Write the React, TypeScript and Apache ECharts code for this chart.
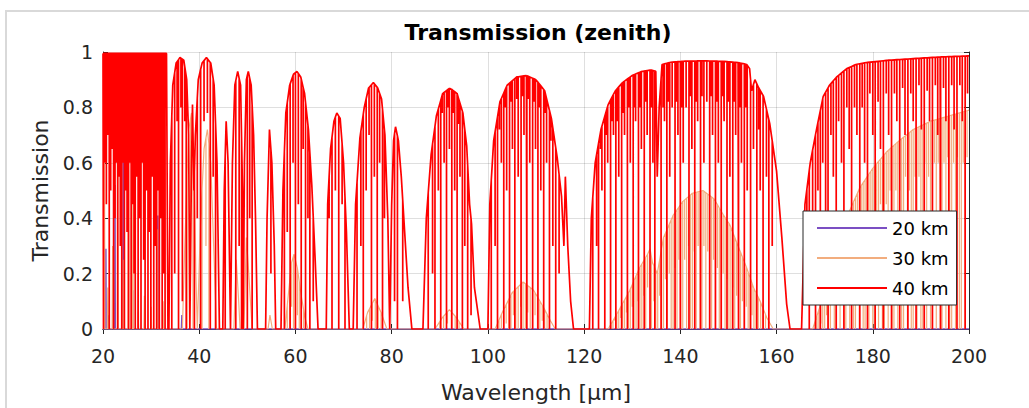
import React, { useEffect, useRef } from "react";
import * as echarts from "echarts";

type P = [number, number];

const titleText = "Transmission (zenith)";
const xName = "Wavelength [µm]";
const yName = "Transmission";
const seriesNames = ["20 km", "30 km", "40 km"];
const seriesColors = ["#7b4fc3", "#f2ad7e", "#ff0000"];
const xMin = 20, xMax = 200, xStep = 20;
const yMin = 0, yMax = 1, yStep = 0.2;

// ---------- 40 km: window envelopes [wavelength µm, transmission] ----------
const env40: P[][] = [
  [[20, 0.995], [33.2, 0.995], [33.5, 0]],
  [[33.7, 0], [34.0, 0.6], [34.5, 0.88], [35.2, 0.96], [36.0, 0.98], [36.8, 0.97], [37.4, 0.9], [37.8, 0.7], [38.05, 0]],
  [[38.1, 0], [38.4, 0.6], [38.6, 0.81], [38.9, 0.5], [39.2, 0.7], [39.8, 0.9], [40.6, 0.96], [41.5, 0.98], [42.4, 0.96], [43.1, 0.88], [43.7, 0.6], [44.2, 0]],
  [[44.9, 0], [45.2, 0.5], [45.6, 0.75], [46.0, 0.6], [46.5, 0]],
  [[46.6, 0], [46.9, 0.6], [47.4, 0.88], [48.0, 0.93], [48.6, 0.88], [49.0, 0.5], [49.15, 0]],
  [[49.2, 0], [49.4, 0.6], [49.8, 0.9], [50.2, 0.93], [50.8, 0.88], [51.3, 0.7], [51.7, 0.4], [52.1, 0]],
  [[53.8, 0], [54.1, 0.4], [54.6, 0.72], [55.1, 0.6], [55.6, 0.3], [55.9, 0]],
  [[57.0, 0], [57.4, 0.5], [58.0, 0.78], [58.8, 0.88], [59.6, 0.92], [60.3, 0.93], [61.1, 0.91], [61.9, 0.85], [62.7, 0.72], [63.4, 0.52], [64.1, 0.25], [64.7, 0]],
  [[66.4, 0], [66.7, 0.45], [67.3, 0.65], [68.0, 0.75], [68.6, 0.78], [69.3, 0.76], [70.0, 0.6], [70.6, 0.35], [71.2, 0]],
  [[72.0, 0], [72.5, 0.45], [73.4, 0.69], [74.3, 0.8], [75.2, 0.87], [76.2, 0.89], [77.1, 0.87], [77.9, 0.83], [78.6, 0.7], [79.2, 0.4], [79.6, 0]],
  [[79.7, 0], [80.0, 0.45], [80.4, 0.68], [80.8, 0.73], [81.4, 0.68], [82.0, 0.55], [82.7, 0.35], [83.4, 0.15], [84.2, 0]],
  [[86.5, 0], [87.2, 0.4], [88.2, 0.63], [89.3, 0.77], [90.6, 0.85], [92.1, 0.87], [93.6, 0.85], [94.8, 0.78], [95.6, 0.66], [96.2, 0.45], [96.6, 0.38], [97.2, 0.15], [98.4, 0]],
  [[100.0, 0], [100.4, 0.45], [101.2, 0.68], [102.5, 0.82], [104.0, 0.88], [106.0, 0.91], [108.0, 0.915], [110.0, 0.9], [111.8, 0.86], [113.2, 0.76], [114.4, 0.62], [115.3, 0.48], [115.8, 0.3], [116.1, 0.55], [116.6, 0.3], [117.2, 0.1], [117.8, 0]],
  [[121.1, 0], [121.5, 0.4], [122.3, 0.6], [123.5, 0.72], [125.0, 0.81], [126.5, 0.86], [128.0, 0.89], [130.0, 0.915], [132.0, 0.93], [134.0, 0.935], [134.9, 0.93], [135.2, 0.55], [135.6, 0.8], [136.2, 0.955], [138.0, 0.963], [141.0, 0.967], [145.0, 0.968], [149.0, 0.966], [152.0, 0.962], [153.8, 0.955], [154.4, 0.94], [154.8, 0.86], [155.5, 0.9], [156.3, 0.87], [157.3, 0.84], [158.6, 0.74], [160.0, 0.57], [161.1, 0.33], [162.1, 0.09], [162.8, 0]],
  [[165.2, 0], [165.9, 0.45], [167.0, 0.6], [168.3, 0.72], [169.7, 0.84], [171.0, 0.88], [172.5, 0.91], [174.6, 0.94], [176.5, 0.955], [178.7, 0.962], [183.0, 0.97], [188.4, 0.976], [194.0, 0.982], [200, 0.986]],
];

// ---------- 40 km: absorption lines [wavelength µm, minimum transmission] ----------
const lines40: P[] = [
  [20.1, 0], [20.35, 0.6], [20.7, 0.45], [21.0, 0.7], [21.3, 0], [21.6, 0.5], [21.9, 0.65], [22.2, 0], [22.5, 0.4], [22.8, 0.6], [23.05, 0], [23.35, 0.55], [23.6, 0.3], [23.9, 0], [24.2, 0.6], [24.45, 0], [24.75, 0.5], [25.0, 0.35], [25.3, 0], [25.6, 0.6], [25.85, 0], [26.15, 0.45], [26.45, 0.2], [26.7, 0], [27.0, 0.55], [27.3, 0], [27.6, 0.4], [27.9, 0], [28.2, 0.6], [28.45, 0.25], [28.75, 0], [29.05, 0.5], [29.35, 0], [29.65, 0.35], [29.95, 0], [30.25, 0.55], [30.55, 0], [30.85, 0.3], [31.15, 0], [31.45, 0.5], [31.7, 0], [32.0, 0.4], [32.3, 0], [32.6, 0.2], [32.9, 0],
  [34.3, 0], [34.9, 0.2], [35.4, 0.75], [35.7, 0], [36.2, 0.8], [36.5, 0.1], [37.0, 0.75], [37.3, 0],
  [39.0, 0], [39.6, 0.4], [40.3, 0], [41.0, 0.75], [41.7, 0.78], [42.3, 0], [42.9, 0.55], [43.4, 0],
  [45.4, 0], [47.6, 0], [48.3, 0.3], [48.8, 0], [50.0, 0], [50.5, 0.4], [51.0, 0], [54.9, 0.2],
  [57.7, 0], [58.3, 0.35], [58.9, 0], [59.5, 0.6], [60.0, 0], [60.6, 0.45], [61.2, 0], [61.6, 0.65], [62.1, 0], [62.6, 0.4], [63.0, 0], [63.7, 0.1],
  [67.0, 0.4], [67.6, 0], [68.3, 0.5], [69.0, 0], [69.7, 0.45], [70.3, 0],
  [72.8, 0], [73.6, 0.3], [74.1, 0], [74.7, 0.5], [75.3, 0.7], [75.8, 0], [76.4, 0.55], [77.0, 0], [77.5, 0.6], [78.1, 0], [78.5, 0.4],
  [80.6, 0.1], [81.2, 0], [82.3, 0.1],
  [87.6, 0], [88.5, 0.2], [89.0, 0], [89.7, 0.5], [90.2, 0], [90.5, 0.78], [90.9, 0.6], [91.4, 0], [91.7, 0.8], [92.0, 0.65], [92.5, 0], [92.8, 0.78], [93.1, 0.5], [93.6, 0], [93.9, 0.74], [94.2, 0.55], [94.7, 0], [95.2, 0.3], [95.8, 0], [96.5, 0.05],
  [100.7, 0], [101.5, 0.3], [102.0, 0], [102.4, 0.72], [102.8, 0.6], [103.3, 0], [103.6, 0.8], [103.9, 0.5], [104.5, 0], [104.8, 0.82], [105.1, 0.65], [105.6, 0], [106.0, 0.83], [106.3, 0.55], [106.9, 0], [107.2, 0.84], [107.5, 0.7], [108.1, 0], [108.4, 0.83], [108.7, 0.6], [109.3, 0], [109.6, 0.82], [109.9, 0.65], [110.4, 0], [110.7, 0.8], [111.0, 0.5], [111.6, 0], [111.9, 0.78], [112.2, 0.6], [112.8, 0], [113.1, 0.68], [113.5, 0.3], [114.1, 0], [114.8, 0.2],
  [121.8, 0], [122.6, 0.3], [123.0, 0], [123.4, 0.65], [123.7, 0.5], [124.3, 0], [124.6, 0.7], [124.9, 0.6], [125.5, 0], [125.8, 0.75], [126.1, 0.7], [126.6, 0], [126.9, 0.75], [127.2, 0.55], [127.8, 0], [128.1, 0.78], [128.4, 0.7], [129.0, 0], [129.3, 0.8], [129.6, 0.6], [130.2, 0], [130.5, 0.8], [130.7, 0.75], [131.3, 0], [131.6, 0.8], [131.9, 0.65], [132.5, 0], [132.8, 0.82], [133.1, 0.7], [133.7, 0], [134.0, 0.8], [134.3, 0.6], [134.7, 0],
  [136.0, 0], [136.4, 0.8], [136.7, 0.75], [137.2, 0], [137.5, 0.82], [137.8, 0.55], [138.3, 0.8], [138.9, 0], [139.2, 0.82], [139.5, 0.7], [140.0, 0], [140.3, 0.8], [140.6, 0.6], [141.2, 0.8], [141.8, 0], [142.1, 0.84], [142.4, 0.65], [143.0, 0], [143.3, 0.82], [143.6, 0.75], [144.2, 0], [144.5, 0.84], [144.9, 0.6], [145.5, 0.82], [146.1, 0], [146.4, 0.84], [146.7, 0.7], [147.3, 0], [147.6, 0.82], [147.9, 0.6], [148.5, 0], [148.8, 0.84], [149.1, 0.75], [149.7, 0], [150.0, 0.82], [150.3, 0.55], [150.9, 0], [151.2, 0.82], [151.5, 0.7], [152.1, 0], [152.4, 0.8], [152.7, 0.6], [153.3, 0], [153.6, 0.8], [153.9, 0.5], [154.6, 0], [155.2, 0.65], [155.9, 0], [156.3, 0.72], [156.6, 0.5], [157.2, 0], [157.9, 0.55], [158.4, 0], [159.1, 0.3],
  [166.3, 0.2], [166.8, 0], [167.5, 0.4], [168.1, 0], [168.6, 0.5], [169.1, 0], [169.6, 0.6], [170.2, 0.35], [170.7, 0], [171.3, 0.7], [171.8, 0.55], [172.4, 0], [172.9, 0.75], [173.5, 0.6], [174.0, 0], [174.6, 0.8], [175.1, 0.65], [175.6, 0], [176.2, 0.8], [176.7, 0.7], [177.3, 0], [177.8, 0.8], [178.3, 0.6], [178.9, 0], [179.4, 0.85], [180.0, 0.7], [180.5, 0], [181.1, 0.82], [181.6, 0.65], [182.2, 0], [182.8, 0.85], [183.3, 0.7], [183.9, 0], [184.5, 0.85], [185.0, 0.75], [185.6, 0], [186.2, 0.87], [186.7, 0.7], [187.3, 0], [187.9, 0.85], [188.4, 0.75], [189.0, 0], [189.6, 0.88], [190.1, 0.72], [190.7, 0], [191.3, 0.86], [191.8, 0.75], [192.4, 0], [193.0, 0.88], [193.5, 0.7], [194.1, 0], [194.7, 0.87], [195.2, 0.75], [195.8, 0], [196.4, 0.88], [196.9, 0.72], [197.5, 0], [198.1, 0.88], [198.6, 0.75], [199.2, 0], [199.7, 0.85],
];

// ---------- 30 km ----------
const env30: P[][] = [
  [[20.2, 0], [20.3, 0.6], [20.4, 0]],
  [[20.9, 0], [21.0, 0.15], [21.1, 0]],
  [[21.9, 0], [22.0, 0.3], [22.1, 0]],
  [[23.0, 0], [23.1, 0.62], [23.2, 0]],
  [[24.1, 0], [24.2, 0.25], [24.3, 0]],
  [[25.2, 0], [25.3, 0.8], [25.4, 0]],
  [[26.1, 0], [26.2, 0.46], [26.3, 0]],
  [[27.2, 0], [27.3, 0.2], [27.4, 0]],
  [[28.5, 0], [28.6, 0.12], [28.7, 0]],
  [[29.9, 0], [30.0, 0.08], [30.1, 0]],
  [[31.2, 0], [31.3, 0.36], [31.4, 0]],
  [[32.4, 0], [32.5, 0.1], [32.6, 0]],
  [[36.5, 0], [37.0, 0.3], [37.8, 0.72], [38.4, 0.78], [38.9, 0.6], [39.3, 0.2], [39.6, 0]],
  [[39.7, 0], [40.3, 0.4], [41.0, 0.65], [41.7, 0.72], [42.4, 0.6], [43.0, 0.3], [43.6, 0]],
  [[47.2, 0], [47.7, 0.25], [48.2, 0.1], [48.5, 0]],
  [[49.3, 0], [49.8, 0.33], [50.3, 0.2], [51.0, 0]],
  [[54.3, 0], [54.7, 0.05], [55.2, 0]],
  [[57.8, 0], [58.5, 0.12], [59.2, 0.24], [59.7, 0.27], [60.4, 0.22], [61.2, 0.12], [62.0, 0.04], [62.6, 0]],
  [[74.0, 0], [75.0, 0.06], [76.5, 0.11], [77.8, 0.06], [79.0, 0]],
  [[89.0, 0], [90.5, 0.04], [92.0, 0.07], [93.5, 0.04], [95.0, 0]],
  [[101.5, 0], [103.0, 0.06], [105.0, 0.13], [107.3, 0.17], [109.5, 0.14], [111.5, 0.08], [113.0, 0.03], [114.0, 0]],
  [[125.0, 0], [127.0, 0.06], [129.5, 0.14], [131.5, 0.22], [133.2, 0.27], [133.7, 0.29], [134.2, 0.24], [135.2, 0.2], [136.5, 0.33], [138.5, 0.41], [140.5, 0.46], [142.5, 0.49], [144.7, 0.5], [147.0, 0.47], [149.0, 0.41], [150.3, 0.376], [152.0, 0.3], [153.8, 0.22], [155.2, 0.15], [156.6, 0.1], [158.0, 0.04], [159.3, 0]],
  [[167.5, 0], [169.0, 0.08], [171.0, 0.2], [173.0, 0.32], [175.0, 0.42], [177.3, 0.51], [180.0, 0.58], [182.9, 0.64], [185.5, 0.68], [188.4, 0.72], [192.0, 0.75], [196.0, 0.77], [200, 0.79]],
];
const lines30: P[] = [
  [37.5, 0], [38.2, 0.2], [38.7, 0], [40.6, 0], [41.4, 0.3], [42.0, 0],
  [58.3, 0], [58.8, 0], [59.2, 0.08], [59.6, 0], [60.0, 0], [60.4, 0.05], [60.8, 0], [61.2, 0], [61.7, 0],
  [74.8, 0], [75.4, 0], [76.0, 0.03], [76.6, 0], [77.2, 0], [77.8, 0],
  [90.0, 0], [90.8, 0], [91.6, 0.02], [92.4, 0], [93.2, 0], [94.0, 0],
  [102.3, 0], [102.8, 0], [103.3, 0], [103.8, 0.02], [104.3, 0], [104.8, 0], [105.3, 0.05], [105.8, 0], [106.3, 0], [106.8, 0.08], [107.3, 0], [107.8, 0], [108.3, 0.06], [108.8, 0], [109.3, 0], [109.8, 0.05], [110.3, 0], [110.8, 0], [111.3, 0.03], [111.8, 0], [112.3, 0], [112.8, 0],
  [125.6, 0], [126.0, 0], [126.4, 0.03], [126.8, 0], [127.2, 0], [127.6, 0.04], [128.0, 0], [128.4, 0], [128.8, 0.06], [129.2, 0], [129.6, 0], [130.0, 0.08], [130.4, 0], [130.8, 0], [131.2, 0.1], [131.6, 0], [132.0, 0], [132.4, 0.12], [132.8, 0], [133.2, 0.15], [134.0, 0], [134.5, 0.1], [134.9, 0], [135.3, 0], [135.7, 0.12], [136.1, 0], [136.5, 0], [136.9, 0.18], [137.3, 0], [137.7, 0.2], [138.1, 0], [138.5, 0], [138.9, 0.22], [139.3, 0], [139.7, 0.25], [140.1, 0], [140.5, 0], [140.9, 0.25], [141.3, 0], [141.7, 0.3], [142.1, 0], [142.5, 0], [142.9, 0.28], [143.3, 0], [143.7, 0.3], [144.1, 0], [144.5, 0], [144.9, 0.3], [145.3, 0], [145.7, 0.28], [146.1, 0], [146.5, 0], [146.9, 0.25], [147.3, 0], [147.7, 0.22], [148.1, 0], [148.5, 0], [148.9, 0.2], [149.3, 0], [149.7, 0.18], [150.1, 0], [150.5, 0], [150.9, 0.15], [151.3, 0], [151.7, 0.12], [152.1, 0], [152.5, 0], [152.9, 0.1], [153.3, 0], [153.7, 0.08], [154.1, 0], [154.5, 0], [154.9, 0.05], [155.3, 0], [155.7, 0], [156.2, 0], [156.7, 0], [157.2, 0], [157.7, 0], [158.3, 0],
  [168.0, 0], [168.4, 0], [168.8, 0], [169.2, 0.02], [169.6, 0], [170.0, 0], [170.4, 0.05], [170.8, 0], [171.2, 0], [171.6, 0.1], [172.0, 0], [172.4, 0], [172.8, 0.15], [173.2, 0], [173.6, 0.2], [174.0, 0], [174.4, 0], [174.8, 0.25], [175.2, 0], [175.6, 0.3], [176.0, 0], [176.4, 0], [176.8, 0.3], [177.2, 0], [177.6, 0.35], [178.0, 0], [178.4, 0], [178.8, 0.35], [179.2, 0], [179.6, 0.4], [180.0, 0], [180.4, 0], [180.8, 0.4], [181.2, 0], [181.6, 0.45], [182.0, 0], [182.4, 0], [182.8, 0.45], [183.2, 0], [183.6, 0.5], [184.0, 0], [184.4, 0], [184.8, 0.5], [185.2, 0], [185.6, 0.5], [186.0, 0], [186.4, 0], [186.8, 0.55], [187.2, 0], [187.6, 0.5], [188.0, 0], [188.4, 0], [188.8, 0.55], [189.2, 0], [189.6, 0.55], [190.0, 0], [190.4, 0], [190.8, 0.6], [191.2, 0], [191.6, 0.55], [192.0, 0], [192.4, 0], [192.8, 0.6], [193.2, 0], [193.6, 0.6], [194.0, 0], [194.4, 0], [194.8, 0.6], [195.2, 0], [195.6, 0.62], [196.0, 0], [196.4, 0], [196.8, 0.6], [197.2, 0], [197.6, 0.62], [198.0, 0], [198.4, 0], [198.8, 0.6], [199.2, 0], [199.6, 0.62],
];

// ---------- 20 km ----------
const env20: P[][] = [
  [[20.2, 0], [20.25, 0.06], [20.3, 0]],
  [[20.55, 0], [20.6, 0.29], [20.65, 0]],
  [[21.15, 0], [21.2, 0.05], [21.25, 0]],
  [[22.45, 0], [22.5, 0.52], [22.55, 0]],
  [[24.15, 0], [24.2, 0.78], [24.25, 0]],
  [[26.15, 0], [26.2, 0.14], [26.25, 0]],
  [[27.25, 0], [27.3, 0.06], [27.35, 0]],
  [[31.35, 0], [31.4, 0.41], [31.45, 0]],
  [[36.3, 0], [36.4, 0.05], [36.5, 0]],
];
const lines20: P[] = [];

function envAt(env: P[], x: number): number {
  for (let i = 0; i < env.length - 1; i++) {
    const [x0, y0] = env[i];
    const [x1, y1] = env[i + 1];
    if (x >= x0 && x <= x1) return x1 === x0 ? y0 : y0 + ((y1 - y0) * (x - x0)) / (x1 - x0);
  }
  return 0;
}

function buildSeries(windows: P[][], lines: P[]): P[] {
  const out: P[] = [];
  const ws = [...windows].sort((a, b) => a[0][0] - b[0][0]);
  if (ws[0][0][0] > xMin) out.push([xMin, 0]);
  for (const env of ws) {
    const x0 = env[0][0];
    const x1 = env[env.length - 1][0];
    const ev: { x: number; y?: number; d?: number }[] = env.map((p) => ({ x: p[0], y: p[1] }));
    lines.filter((l) => l[0] > x0 && l[0] < x1).forEach((l) => ev.push({ x: l[0], d: l[1] }));
    ev.sort((a, b) => a.x - b.x);
    for (const e of ev) {
      if (e.y !== undefined) out.push([e.x, e.y]);
      else {
        const top = envAt(env, e.x);
        out.push([e.x, top], [e.x, Math.min(top, e.d as number)], [e.x, top]);
      }
    }
  }
  if (out[out.length - 1][0] < xMax) out.push([xMax, 0]);
  return out;
}

const data20 = buildSeries(env20, lines20);
const data30 = buildSeries(env30, lines30);
const data40 = buildSeries(env40, lines40);

const FONT = "DejaVu Sans, Liberation Sans, sans-serif";
const AX = "#262626";
const widths = [1.5, 1.2, 1.7];

export default function App() {
  const ref = useRef<HTMLDivElement>(null);
  useEffect(() => {
    if (!ref.current) return;
    const chart = echarts.init(ref.current, undefined, { renderer: "svg" });
    const series = [data20, data30, data40].map((d, i) => ({
      name: seriesNames[i],
      type: "line",
      data: d,
      showSymbol: false,
      symbol: "none",
      color: seriesColors[i],
      lineStyle: { width: widths[i], color: seriesColors[i] },
      silent: true,
      z: 2 + i * 0.1,
    }));
    chart.setOption({
      animation: false,
      backgroundColor: "#ffffff",
      textStyle: { fontFamily: FONT },
      title: {
        text: titleText,
        left: 533,
        textAlign: "center",
        top: 16,
        textStyle: { fontFamily: FONT, fontSize: 22, fontWeight: "bold", color: "#000" },
      },
      grid: { left: 103, right: 60, top: 52, bottom: 76 },
      legend: {
        data: seriesNames,
        orient: "vertical",
        left: 803,
        top: 211,
        z: 20,
        icon: "rect",
        itemWidth: 70,
        itemHeight: 2,
        itemGap: 10,
        padding: [7, 8, 7, 14],
        backgroundColor: "#ffffff",
        borderColor: AX,
        borderWidth: 1,
        borderRadius: 0,
        textStyle: { fontFamily: FONT, fontSize: 18, color: "#000", lineHeight: 20 },
      },
      xAxis: [
        {
          type: "value",
          min: xMin,
          max: xMax,
          interval: xStep,
          position: "bottom",
          name: xName,
          nameLocation: "middle",
          nameGap: 52,
          nameTextStyle: { fontFamily: FONT, fontSize: 22, color: AX },
          axisLine: { show: true, lineStyle: { color: AX, width: 1 } },
          axisTick: { show: true, inside: true, length: 5, lineStyle: { color: AX } },
          axisLabel: { fontFamily: FONT, fontSize: 19, color: AX, margin: 17 },
          splitLine: { show: true, lineStyle: { color: "rgba(38,38,38,0.15)", width: 1 } },
        },
        {
          type: "value",
          min: xMin,
          max: xMax,
          interval: xStep,
          position: "top",
          axisLine: { show: true, lineStyle: { color: AX, width: 1 } },
          axisTick: { show: true, inside: true, length: 5, lineStyle: { color: AX } },
          axisLabel: { show: false },
          splitLine: { show: false },
        },
      ],
      yAxis: [
        {
          type: "value",
          min: yMin,
          max: yMax,
          interval: yStep,
          position: "left",
          name: yName,
          nameLocation: "middle",
          nameGap: 52,
          nameTextStyle: { fontFamily: FONT, fontSize: 22, color: AX },
          axisLine: { show: true, lineStyle: { color: AX, width: 1 } },
          axisTick: { show: true, inside: true, length: 5, lineStyle: { color: AX } },
          axisLabel: {
            fontFamily: FONT,
            fontSize: 19,
            color: AX,
            margin: 10,
            formatter: (v: number) => String(Number(v.toFixed(1))),
          },
          splitLine: { show: true, lineStyle: { color: "rgba(38,38,38,0.15)", width: 1 } },
        },
        {
          type: "value",
          min: yMin,
          max: yMax,
          interval: yStep,
          position: "right",
          axisLine: { show: true, lineStyle: { color: AX, width: 1 } },
          axisTick: { show: true, inside: true, length: 5, lineStyle: { color: AX } },
          axisLabel: { show: false },
          splitLine: { show: false },
        },
      ],
      graphic: [
        {
          type: "rect",
          shape: { x: 6, y: 11, width: 1060, height: 440 },
          style: { fill: "none", stroke: "#d9d9d9", lineWidth: 2 },
          silent: true,
          z: -10,
        },
      ],
      series,
    });
    return () => chart.dispose();
  }, []);
  return (
    <div
      ref={ref}
      style={{ position: "fixed", left: 0, top: 0, width: 1029, height: 408, background: "#fff" }}
    />
  );
}
